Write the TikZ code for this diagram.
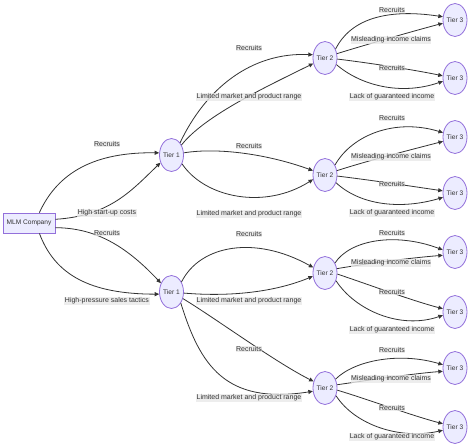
\documentclass[tikz,border=0pt]{standalone}
\usepackage{fontspec}
\setmainfont{Liberation Sans}
\usetikzlibrary{shapes.geometric,arrows.meta}
\definecolor{nodefill}{HTML}{ECECFF}
\definecolor{nodeborder}{HTML}{9370DB}
\definecolor{edgecol}{HTML}{333333}
\definecolor{txt}{HTML}{333333}
\definecolor{lblbg}{HTML}{E8E8E8}
\tikzset{
  tier/.style={ellipse, draw=nodeborder, fill=nodefill, line width=0.8pt, minimum width=24pt, minimum height=33pt, inner sep=0pt, font=\fontsize{6.6}{7}\selectfont, text=txt},
  mlmbox/.style={rectangle, draw=nodeborder, fill=nodefill, line width=0.8pt, minimum width=52pt, minimum height=20pt, inner sep=0pt, font=\fontsize{6.6}{7}\selectfont, text=txt},
  lbl/.style={fill=lblbg, fill opacity=0.8, text opacity=1, inner sep=0.6pt, font=\fontsize{7}{8}\selectfont, text=txt},
  edge/.style={draw=edgecol, line width=0.8pt, -{Triangle[length=4.5pt,width=4pt]}},
}
\begin{document}
\begin{tikzpicture}[x=1pt,y=1pt]
\useasboundingbox (0,0) rectangle (474,-447);
% nodes
\node[mlmbox] (mlm) at (29,-223) {MLM Company};
\node[tier] (t1a) at (171.5,-155) {Tier 1};
\node[tier] (t1b) at (171.5,-292) {Tier 1};
\node[tier] (t2a) at (325,-58) {Tier 2};
\node[tier] (t2b) at (325,-175) {Tier 2};
\node[tier] (t2c) at (325,-273) {Tier 2};
\node[tier] (t2d) at (325,-388) {Tier 2};
\node[tier] (t3a) at (455,-20) {Tier 3};
\node[tier] (t3b) at (455,-78) {Tier 3};
\node[tier] (t3c) at (455,-137) {Tier 3};
\node[tier] (t3d) at (455,-193) {Tier 3};
\node[tier] (t3e) at (455,-252) {Tier 3};
\node[tier] (t3f) at (455,-312) {Tier 3};
\node[tier] (t3g) at (455,-368) {Tier 3};
\node[tier] (t3h) at (455,-427) {Tier 3};
% edges from MLM
\draw[edge] (mlm.45) .. controls (58,-172) and (95,-152) .. (t1a.170);
\draw[edge] (mlm.8) .. controls (110,-216) and (132,-190) .. (t1a.215);
\draw[edge] (mlm.-10) .. controls (95,-228) and (125,-245) .. (t1b.140);
\draw[edge] (mlm.-45) .. controls (55,-275) and (90,-294) .. (t1b.190);
% tier1 -> tier2
\draw[edge] (t1a.55) .. controls (205,-90) and (250,-52) .. (t2a.165);
\draw[edge] (t1a.45) .. controls (205,-115) and (270,-85) .. (t2a.205);
\draw[edge] (t1a.10) .. controls (220,-147) and (270,-155) .. (t2b.160);
\draw[edge] (t1a.-40) .. controls (205,-198) and (265,-210) .. (t2b.200);
\draw[edge] (t1b.45) .. controls (200,-245) and (255,-235) .. (t2c.155);
\draw[edge] (t1b.-5) .. controls (230,-297) and (275,-292) .. (t2c.195);
\draw[edge] (t1b.-30) .. controls (215,-318) and (275,-362) .. (t2d.150);
\draw[edge] (t1b.-50) .. controls (200,-365) and (225,-405) .. (t2d.195);
% group 1
\draw[edge] (t2a.40) .. controls (350,-20) and (385,-8) .. (t3a.165);
\draw[edge] (t2a.20) .. controls (365,-45) and (410,-32) .. (t3a.195);
\draw[edge] (t2a.-5) .. controls (370,-63) and (415,-70) .. (t3b.170);
\draw[edge] (t2a.-30) .. controls (360,-85) and (400,-96) .. (t3b.195);
% group 2
\draw[edge] (t2b.45) .. controls (352,-135) and (395,-118) .. (t3c.160);
\draw[edge] (t2b.20) .. controls (370,-160) and (410,-150) .. (t3c.200);
\draw[edge] (t2b.-5) .. controls (370,-180) and (410,-186) .. (t3d.170);
\draw[edge] (t2b.-35) .. controls (360,-205) and (400,-210) .. (t3d.200);
% group 3
\draw[edge] (t2c.45) .. controls (350,-240) and (395,-232) .. (t3e.170);
\draw[edge] (t2c.20) .. controls (370,-263) and (410,-258) .. (t3e.195);
\draw[edge] (t2c.-5) .. controls (370,-285) and (410,-300) .. (t3f.165);
\draw[edge] (t2c.-35) .. controls (355,-310) and (400,-330) .. (t3f.195);
% group 4
\draw[edge] (t2d.40) .. controls (355,-360) and (400,-352) .. (t3g.165);
\draw[edge] (t2d.15) .. controls (370,-380) and (410,-374) .. (t3g.195);
\draw[edge] (t2d.-10) .. controls (370,-400) and (410,-415) .. (t3h.165);
\draw[edge] (t2d.-35) .. controls (355,-425) and (400,-440) .. (t3h.195);
% labels
\node[lbl] (la1) at (107,-144) {Recruits};
\node[lbl] (la2) at (107,-213) {High start-up costs};
\node[lbl] (la3) at (107,-233) {Recruits};
\node[lbl] (la4) at (107,-301) {High-pressure sales tactics};
\node[lbl] (lb1) at (249,-48) {Recruits};
\node[lbl] (lb2) at (249,-97) {Limited market and product range};
\node[lbl] (lb3) at (249,-146) {Recruits};
\node[lbl] (lb4) at (249,-214) {Limited market and product range};
\node[lbl] (lc1) at (249,-234) {Recruits};
\node[lbl] (lc2) at (249,-301) {Limited market and product range};
\node[lbl] (lc3) at (249,-349) {Recruits};
\node[lbl] (lc4) at (249,-398) {Limited market and product range};
\node[lbl] (g1a) at (392,-10) {Recruits};
\node[lbl] (g1b) at (391,-40) {Misleading income claims};
\node[lbl] (g1c) at (392,-68) {Recruits};
\node[lbl] (g1d) at (392,-97) {Lack of guaranteed income};
\node[lbl] (g2a) at (392,-118) {Recruits};
\node[lbl] (g2b) at (391,-157) {Misleading income claims};
\node[lbl] (g2c) at (392,-184) {Recruits};
\node[lbl] (g2d) at (392,-213) {Lack of guaranteed income};
\node[lbl] (g3a) at (392,-233) {Recruits};
\node[lbl] (g3b) at (391,-263) {Misleading income claims};
\node[lbl] (g3c) at (392,-292) {Recruits};
\node[lbl] (g3d) at (392,-330) {Lack of guaranteed income};
\node[lbl] (g4a) at (392,-350) {Recruits};
\node[lbl] (g4b) at (391,-379) {Misleading income claims};
\node[lbl] (g4c) at (392,-408) {Recruits};
\node[lbl] (g4d) at (392,-437) {Lack of guaranteed income};
\end{tikzpicture}
\end{document}
